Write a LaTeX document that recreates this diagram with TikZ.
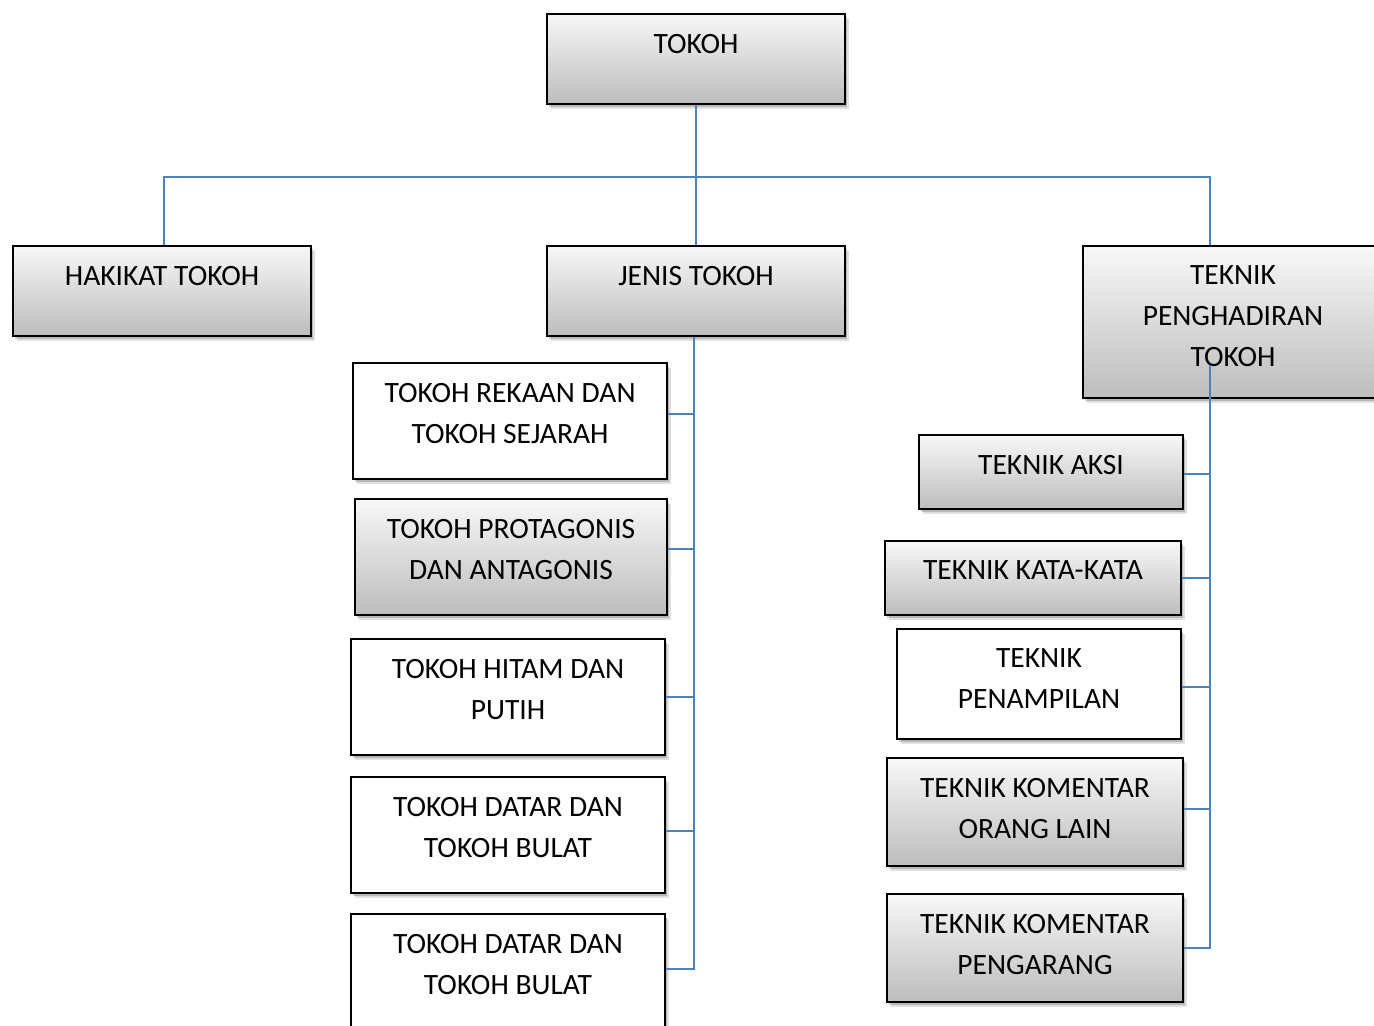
\documentclass[tikz,border=0pt]{standalone}
\usepackage{fontspec}
\setmainfont{Carlito}
\usetikzlibrary{shadows,calc}
\definecolor{connc}{HTML}{4F81BD}
\tikzset{
 box/.style={draw=black, line width=1pt, anchor=north west, inner sep=0pt,
   drop shadow={shadow xshift=2pt, shadow yshift=-2.5pt, opacity=0.12, fill=black},
   drop shadow={shadow xshift=1.2pt, shadow yshift=-1.6pt, opacity=0.18, fill=black}},
 grad/.style={box, top color=black!3, bottom color=black!26},
 plain/.style={box, fill=white},
 lbl/.style={anchor=north, inner sep=0pt, align=center, font=\fontsize{14.75}{20.5}\selectfont},
 conn/.style={draw=connc, line width=1pt},
}
\newcommand\bx[7]{%
 \node[#6, minimum width={(#4-#2)*0.5pt}, minimum height={(#5-#3)*0.5pt}] (#1) at (#2,#3) {};
 \node[lbl] (#1t) at ($(#1.north)+(0,20.5)$) {#7};}
\begin{document}
\begin{tikzpicture}[x=0.5pt,y=-0.5pt]
\useasboundingbox[fill=white] (0,0) rectangle (1374,1025);
\bx{tokoh}{546}{13}{844}{103}{grad}{TOKOH}
\bx{hakikat}{12}{245}{310}{335}{grad}{HAKIKAT TOKOH}
\bx{jenis}{546}{245}{844}{335}{grad}{JENIS TOKOH}
\bx{teknik}{1082}{245}{1382}{397}{grad}{TEKNIK\\PENGHADIRAN\\TOKOH}
\bx{rekaan}{352}{362}{666}{478}{plain}{TOKOH REKAAN DAN\\TOKOH SEJARAH}
\bx{protag}{354}{498}{666}{614}{grad}{TOKOH PROTAGONIS\\DAN ANTAGONIS}
\bx{hitam}{350}{638}{664}{754}{plain}{TOKOH HITAM DAN\\PUTIH}
\bx{datara}{350}{776}{664}{892}{plain}{TOKOH DATAR DAN\\TOKOH BULAT}
\bx{datarb}{350}{913}{664}{1030}{plain}{TOKOH DATAR DAN\\TOKOH BULAT}
\bx{aksi}{918}{434}{1182}{508}{grad}{TEKNIK AKSI}
\bx{kata}{884}{540}{1180}{614}{grad}{TEKNIK KATA-KATA}
\bx{tampil}{896}{628}{1180}{738}{plain}{TEKNIK\\PENAMPILAN}
\bx{orang}{886}{757}{1182}{865}{grad}{TEKNIK KOMENTAR\\ORANG LAIN}
\bx{karang}{886}{893}{1182}{1001}{grad}{TEKNIK KOMENTAR\\PENGARANG}
% connectors
\coordinate (hl) at (164,177);
\coordinate (hr) at (1210,177);
\draw[conn] (tokoh.south) -- (jenis.north);
\draw[conn] (hakikat.north -| hl) -- (hl) -- (hr) -- (teknik.north -| hr);
\coordinate (lt) at (694,969);
\draw[conn] (jenis.south -| lt) -- (lt) -- (lt -| datarb.east);
\draw[conn] ([yshift=3.5pt]rekaan.east) -- ([yshift=3.5pt]rekaan.east -| lt);
\draw[conn] ([yshift=4pt]protag.east) -- ([yshift=4pt]protag.east -| lt);
\draw[conn] (hitam.east) -- (hitam.east -| lt);
\draw[conn] ([yshift=2pt]datara.east) -- ([yshift=2pt]datara.east -| lt);
\coordinate (rt) at (1210,365);
\coordinate (rb) at (1210,948);
\draw[conn] (rt) -- (rb) -- (rb -| karang.east);
\draw[conn] ([yshift=-1pt]aksi.east) -- ([yshift=-1pt]aksi.east -| rt);
\draw[conn] (kata.east) -- (kata.east -| rt);
\draw[conn] ([yshift=-1.5pt]tampil.east) -- ([yshift=-1.5pt]tampil.east -| rt);
\draw[conn] ([yshift=1.5pt]orang.east) -- ([yshift=1.5pt]orang.east -| rt);
\end{tikzpicture}
\end{document}
